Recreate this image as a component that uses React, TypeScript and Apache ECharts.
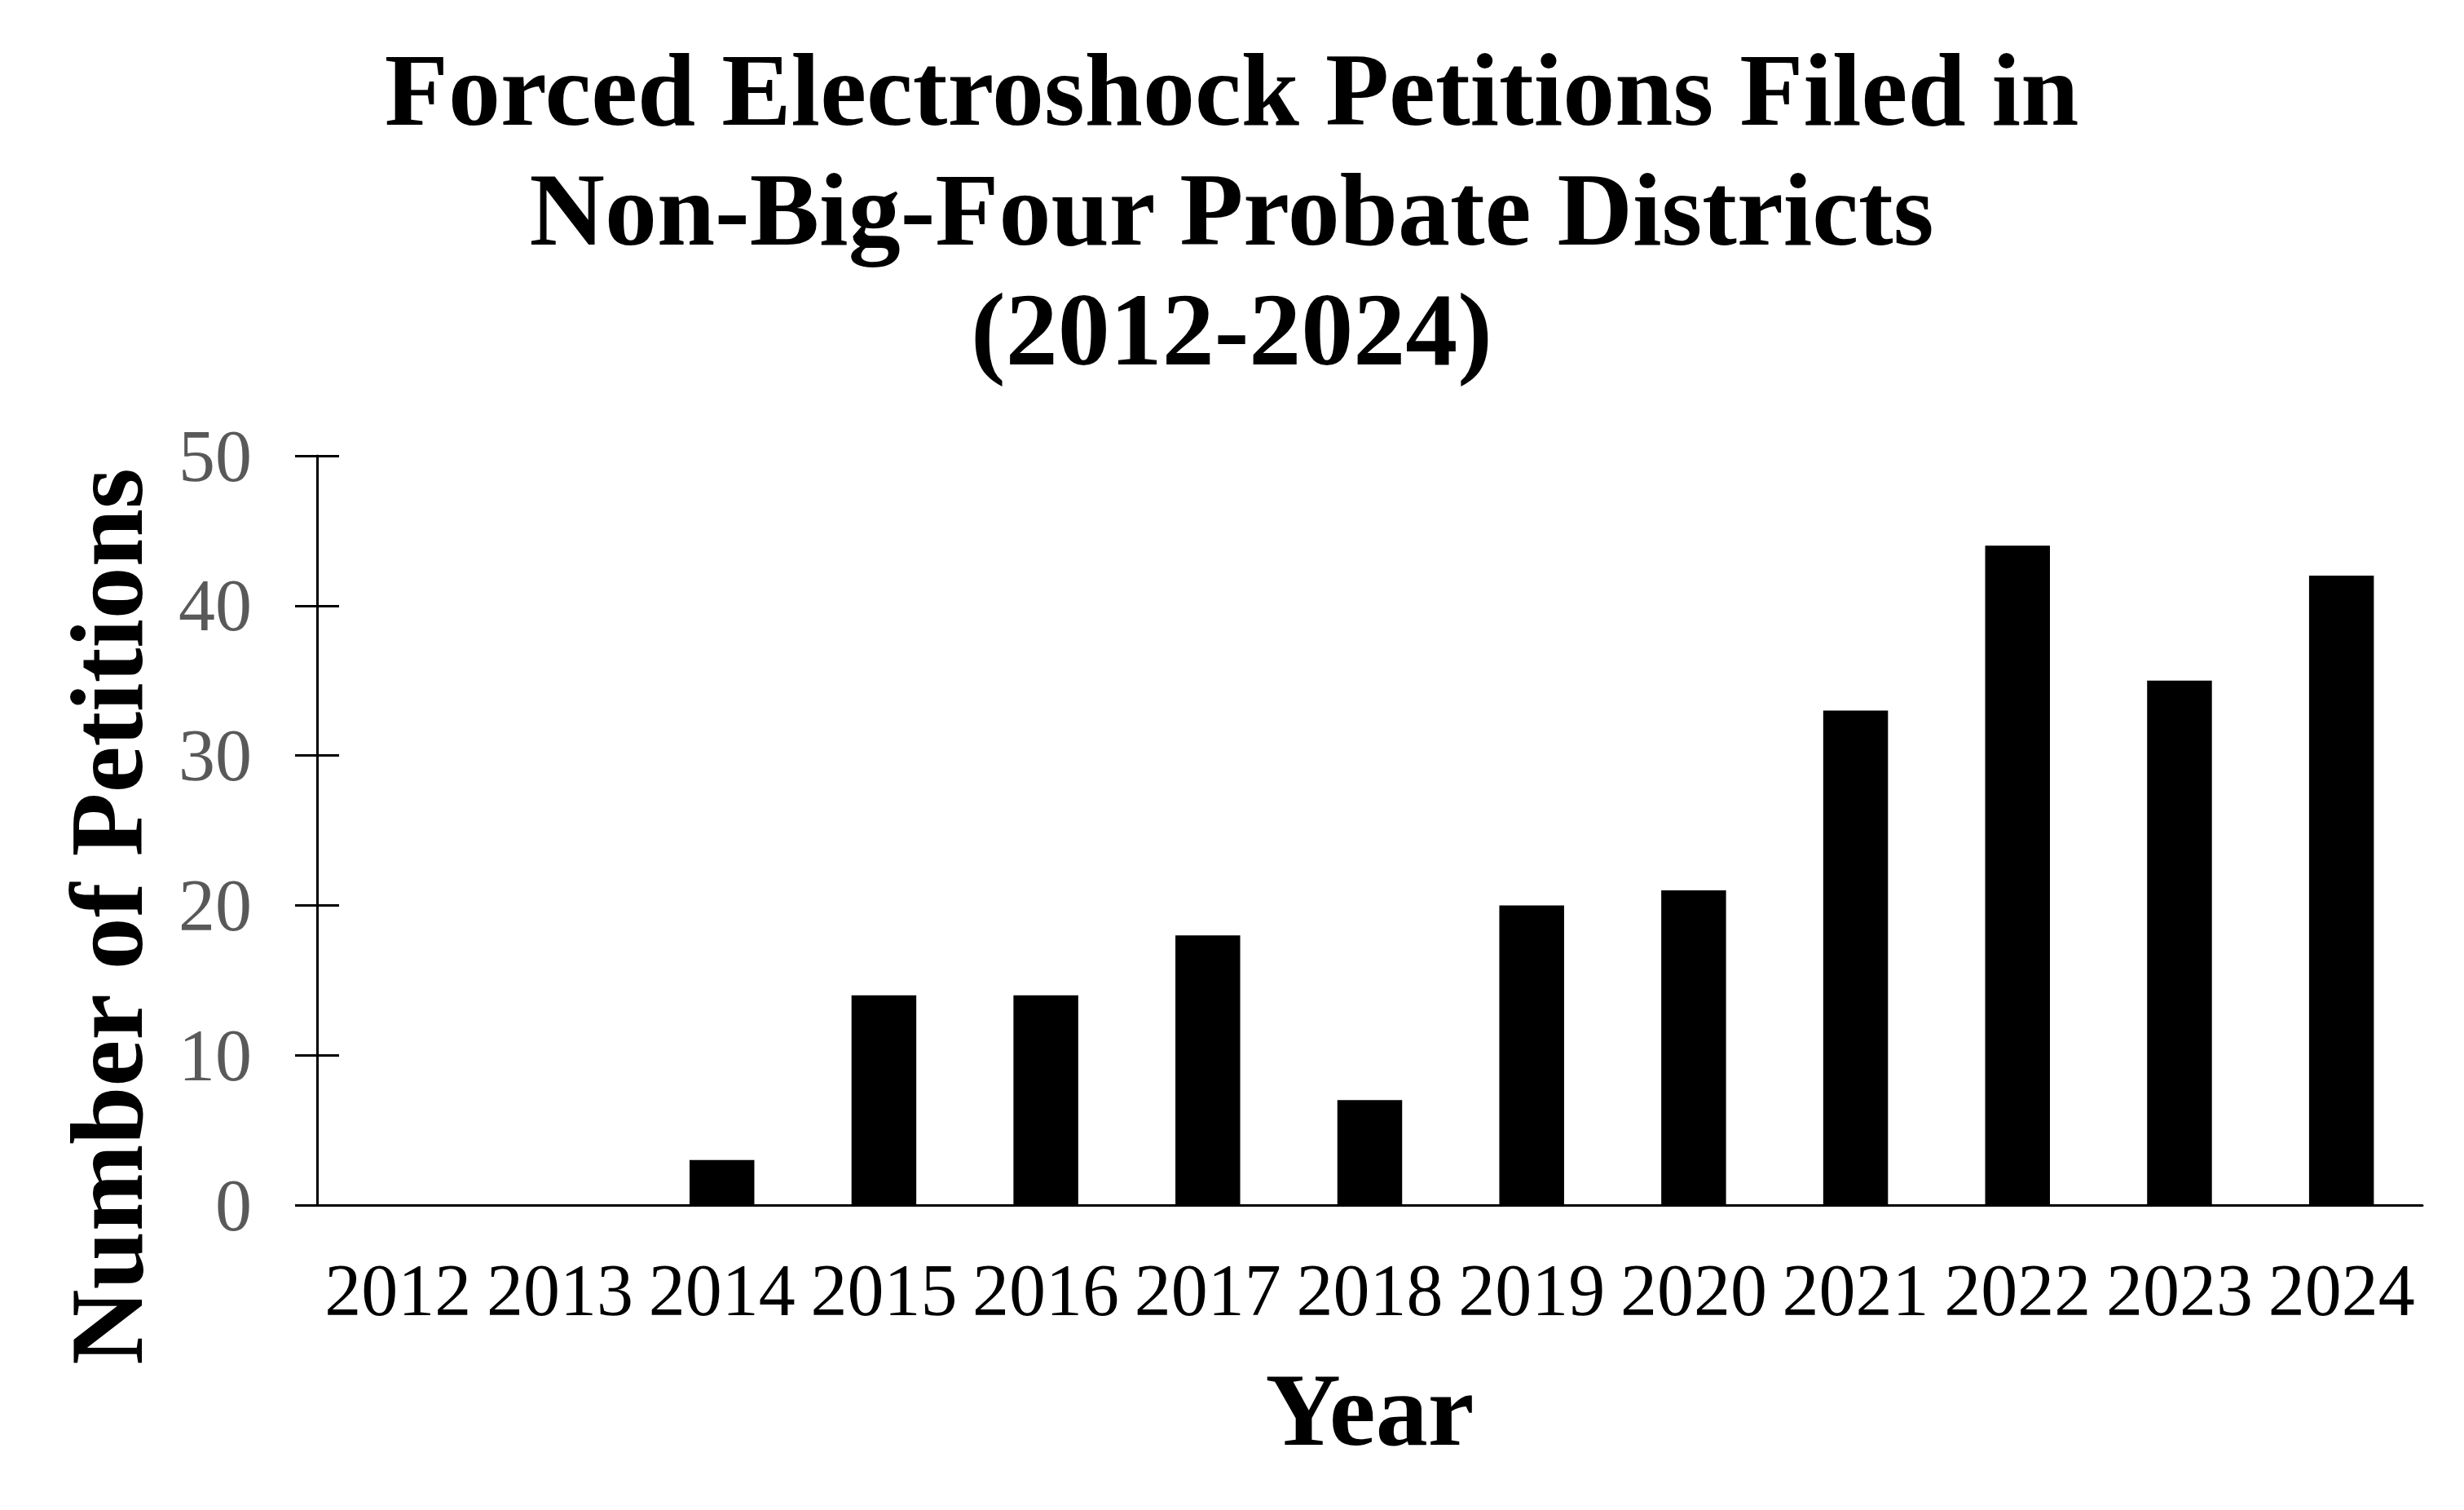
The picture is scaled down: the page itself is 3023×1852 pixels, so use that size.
import React, { useEffect, useRef } from "react";
import * as echarts from "echarts";

const years = ["2012", "2013", "2014", "2015", "2016", "2017", "2018", "2019", "2020", "2021", "2022", "2023", "2024"];
const petitions = [0, 0, 3, 14, 14, 18, 7, 20, 21, 33, 44, 35, 42];
const titleText = "Forced Electroshock Petitions Filed in\nNon-Big-Four Probate Districts\n(2012-2024)";
const yAxisName = "Number of Petitions";
const xAxisName = "Year";

const FONT = "'Liberation Serif', 'Times New Roman', serif";

export default function App() {
  const ref = useRef<HTMLDivElement>(null);
  useEffect(() => {
    if (!ref.current) return;
    const chart = echarts.init(ref.current, null, { renderer: "svg" });
    chart.setOption({
      animation: false,
      backgroundColor: "#ffffff",
      grid: { left: 389, right: 51, top: 559, bottom: 374, containLabel: false },
      xAxis: {
        type: "category",
        data: years,
        name: xAxisName,
        nameLocation: "middle",
        nameGap: 187,
        nameTextStyle: { fontFamily: FONT, fontWeight: "bold", fontSize: 128, color: "#000000" },
        axisLine: { show: true, lineStyle: { color: "#000000", width: 3 } },
        axisTick: { show: false },
        axisLabel: { fontFamily: FONT, fontSize: 90, color: "#000000", margin: 59, interval: 0 },
        splitLine: { show: false },
      },
      yAxis: [
        {
          type: "value",
          min: 0,
          max: 50,
          interval: 10,
          axisLine: { show: true, lineStyle: { color: "#000000", width: 3 } },
          axisTick: { show: true, inside: false, length: 27, lineStyle: { color: "#000000", width: 3 } },
          axisLabel: { fontFamily: FONT, fontSize: 90, color: "#595959", margin: 80 },
          splitLine: { show: false },
        },
        {
          type: "value",
          min: 0,
          max: 50,
          interval: 10,
          position: "left",
          axisLine: { show: false },
          axisTick: { show: true, inside: true, length: 27, lineStyle: { color: "#000000", width: 3 } },
          axisLabel: { show: false },
          splitLine: { show: false },
        },
      ],
      graphic: [
        {
          type: "text",
          x: 1511,
          y: 36,
          style: {
            text: titleText,
            fontFamily: FONT,
            fontWeight: "bold",
            fontSize: 128,
            lineHeight: 147,
            fill: "#000000",
            align: "center",
            verticalAlign: "top",
          },
        },
        {
          type: "text",
          x: 131,
          y: 1124,
          rotation: Math.PI / 2,
          style: {
            text: yAxisName,
            fontFamily: FONT,
            fontWeight: "bold",
            fontSize: 128,
            fill: "#000000",
            align: "center",
            verticalAlign: "middle",
          },
        },
      ],
      series: [
        {
          type: "bar",
          data: petitions,
          yAxisIndex: 0,
          barWidth: "40%",
          itemStyle: { color: "#000000" },
        },
      ],
    });
    return () => chart.dispose();
  }, []);
  return (
    <div
      ref={ref}
      style={{ position: "fixed", left: 0, top: 0, width: 3023, height: 1852 }}
    />
  );
}
